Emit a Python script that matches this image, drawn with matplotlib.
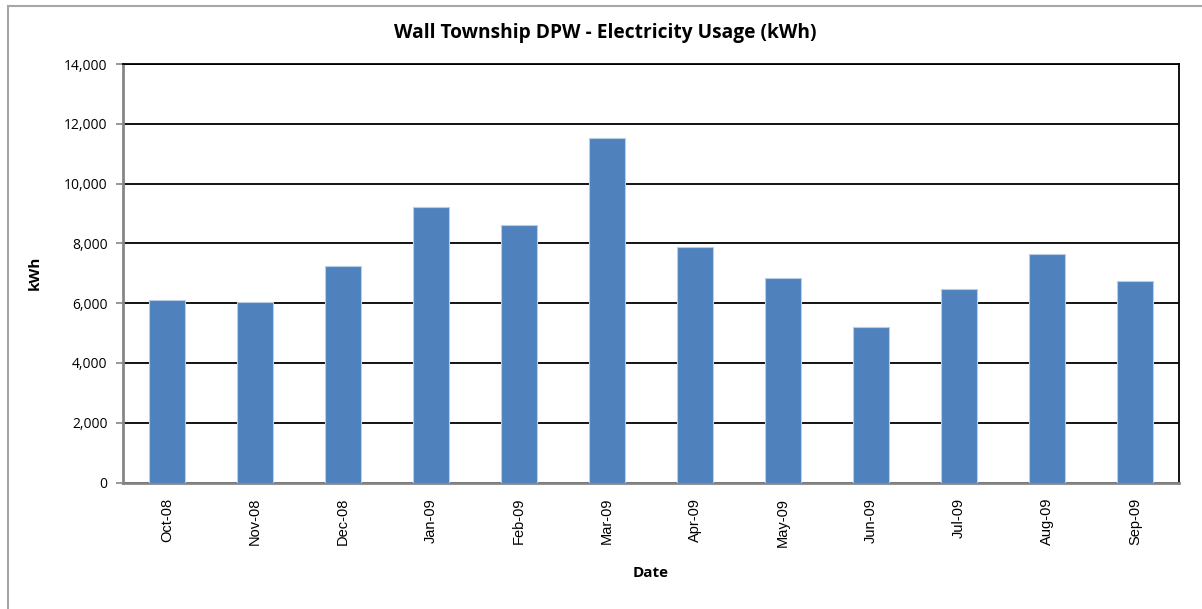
import matplotlib.pyplot as plt
from matplotlib.patches import Rectangle
from matplotlib.ticker import FuncFormatter

months = ["Oct-08", "Nov-08", "Dec-08", "Jan-09", "Feb-09", "Mar-09",
          "Apr-09", "May-09", "Jun-09", "Jul-09", "Aug-09", "Sep-09"]
usage_kwh = [6100, 6030, 7250, 9230, 8600, 11520,
             7870, 6830, 5210, 6460, 7640, 6740]
y_ticks = [0, 2000, 4000, 6000, 8000, 10000, 12000, 14000]

fig = plt.figure(figsize=(12.02, 6.09), dpi=100)
W, H = 1202, 609

# outer chart-area border
fig.patches.append(Rectangle((8 / W, -0.1), 1.2, 1 - 6 / H + 0.1,
                             transform=fig.transFigure, fill=False,
                             edgecolor="#a6a6a6", linewidth=1.5))

ax = fig.add_axes([123 / W, 1 - 482.5 / H, (1179 - 123) / W, (482.5 - 64) / H])

x = range(len(months))
ax.bar(x, usage_kwh, width=0.4, color="#4f81bd", edgecolor="#b9cde5",
       linewidth=0.8, zorder=3)

ax.set_xlim(-0.5, len(months) - 0.5)
ax.set_ylim(0, 14000)
ax.set_yticks(y_ticks)
ax.yaxis.set_major_formatter(FuncFormatter(lambda v, p: f"{int(v):,}"))
ax.grid(axis="y", color="black", linewidth=1.3, zorder=1)

ax.set_xticks(list(x))
ax.set_xticklabels(months, rotation=90, fontsize=10.5, family="Liberation Sans")
ax.tick_params(axis="x", length=0, pad=11)
ax.tick_params(axis="y", length=5, width=1.2, color="#868686", pad=6,
               labelsize=10)
for lbl in ax.get_yticklabels():
    lbl.set_family("Open Sans")

for side in ("left", "bottom"):
    ax.spines[side].set_color("#868686")
    ax.spines[side].set_linewidth(2)
for side in ("top", "right"):
    ax.spines[side].set_color("black")
    ax.spines[side].set_linewidth(1.3)

ax.set_ylabel("kWh", fontsize=11, fontweight="bold", family="Open Sans",
              labelpad=16)
ax.set_xlabel("Date", fontsize=11, fontweight="bold", family="Open Sans",
              labelpad=14)
fig.text(605 / W, 1 - 33 / H, "Wall Township DPW - Electricity Usage (kWh)",
         ha="center", va="center", fontsize=13.8, fontweight="bold",
         family="Open Sans")

fig.savefig("out.png", dpi=100)
